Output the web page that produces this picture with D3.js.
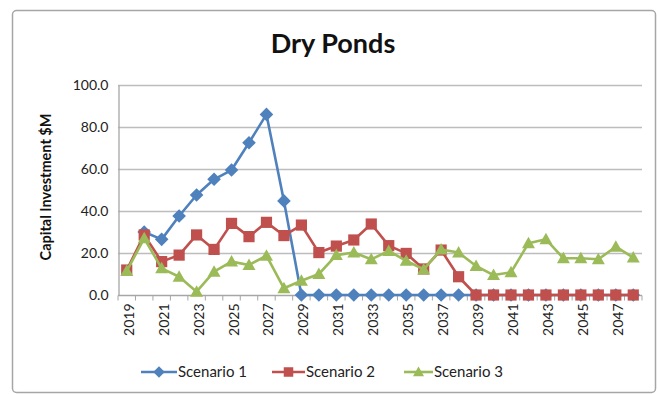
<!DOCTYPE html>
<html>
<head>
<meta charset="utf-8">
<script src="https://cdn.jsdelivr.net/npm/d3@7"></script>
<style>
  html, body { margin: 0; padding: 0; background: #fff; }
  svg { display: block; font-family: Lato, "Open Sans", sans-serif; }
</style>
</head>
<body>
<svg id="chart" width="658" height="394"></svg>
<script>
// Years on the category axis
const years = d3.range(2019, 2049);
// Capital investment ($M) by scenario; null where no value is plotted
const scenario1 = [null, 30, 26.5, 37.6, 47.6, 55.1, 59.5, 72.5, 86.0, 44.8,
  0, 0, 0, 0, 0, 0, 0, 0, 0, 0,
  0, 0, 0, 0, 0, 0, 0, 0, 0, 0];
const scenario2 = [11.9, 28.6, 15.9, 19.0, 28.6, 21.7, 34.1, 27.8, 34.6, 28.3,
  33.3, 20.2, 23.3, 26.2, 33.8, 23.5, 19.8, 12.4, 21.4, 8.7,
  0, 0, 0, 0, 0, 0, 0, 0, 0, 0];
const scenario3 = [11.4, 27.0, 12.7, 8.7, 1.6, 11.1, 15.9, 14.3, 18.7, 3.2,
  6.8, 10.0, 19.0, 20.2, 17.0, 21.0, 16.3, 12.2, 21.7, 20.2,
  13.8, 9.5, 10.8, 24.6, 26.5, 17.5, 17.5, 17.0, 23.0, 17.8];
const seriesNames = ["Scenario 1", "Scenario 2", "Scenario 3"];
const yTicks = [0, 20, 40, 60, 80, 100];

const series = [
  { name: seriesNames[0], values: scenario1, color: "#4F81BD", symbol: "diamond" },
  { name: seriesNames[1], values: scenario2, color: "#C0504D", symbol: "square" },
  { name: seriesNames[2], values: scenario3, color: "#9BBB59", symbol: "triangle" }
];

const svg = d3.select("#chart");
const plot = { left: 118, right: 642, top: 85, bottom: 295 };

// Outer frame
svg.append("rect")
  .attr("x", 12.5).attr("y", 10.5)
  .attr("width", 643).attr("height", 382)
  .attr("rx", 4)
  .attr("fill", "#fff")
  .attr("stroke", "#a6a6a6")
  .attr("stroke-width", 1.5);

// Title
svg.append("text")
  .attr("x", 333).attr("y", 53)
  .attr("text-anchor", "middle")
  .attr("font-size", 27)
  .attr("font-weight", "bold")
  .attr("fill", "#111")
  .text("Dry Ponds");

const x = d3.scaleBand().domain(years).range([plot.left, plot.right]);
const y = d3.scaleLinear().domain([0, 100]).range([plot.bottom, plot.top]);

// Horizontal gridlines
svg.append("g")
  .selectAll("line")
  .data(yTicks.filter(d => d > 0))
  .join("line")
  .attr("x1", plot.left).attr("x2", plot.right)
  .attr("y1", d => Math.round(y(d)) + 0.5).attr("y2", d => Math.round(y(d)) + 0.5)
  .attr("stroke", "#bdbdbd")
  .attr("stroke-width", 1.3);

// Y axis
const yAxis = svg.append("g")
  .attr("transform", `translate(${plot.left + 0.5},0)`)
  .call(d3.axisLeft(y).tickValues(yTicks).tickFormat(d3.format(".1f")).tickSize(0).tickPadding(10));
yAxis.select(".domain").attr("stroke", "#a6a6a6").attr("stroke-width", 1.3);
yAxis.selectAll("text")
  .attr("font-size", 14)
  .attr("font-family", "Lato, sans-serif")
  .attr("fill", "#222");

// Y axis title
svg.append("text")
  .attr("transform", `translate(51,187) rotate(-90)`)
  .attr("text-anchor", "middle")
  .attr("font-size", 14.5)
  .attr("font-weight", "bold")
  .attr("fill", "#111")
  .text("Capital Investment $M");

// X axis: ticks sit between categories
const xg = svg.append("g").attr("transform", `translate(0,${Math.round(plot.bottom) + 0.5})`);
xg.append("line")
  .attr("x1", plot.left).attr("x2", plot.right)
  .attr("stroke", "#a6a6a6").attr("stroke-width", 1.3);
xg.selectAll("line.tick")
  .data(years.concat([years[years.length - 1] + 1]))
  .join("line")
  .attr("class", "tick")
  .attr("x1", (d, i) => plot.left + i * x.bandwidth())
  .attr("x2", (d, i) => plot.left + i * x.bandwidth())
  .attr("y1", 0).attr("y2", 5)
  .attr("stroke", "#a6a6a6").attr("stroke-width", 1);
xg.selectAll("text")
  .data(years.filter((d, i) => i % 2 === 0))
  .join("text")
  .attr("transform", d => `translate(${x(d) + x.bandwidth() / 2 + 7},8) rotate(-90)`)
  .attr("text-anchor", "end")
  .attr("font-size", 14)
  .attr("fill", "#222")
  .text(d => d);

// Marker shapes
const markerPath = {
  diamond: "M0,-6.8L6.8,0L0,6.8L-6.8,0Z",
  square: "M-5.6,-5.6H5.6V5.6H-5.6Z",
  triangle: "M0,-6.5L6.5,5L-6.5,5Z"
};

// Lines and markers
const cx = d => x(d) + x.bandwidth() / 2;
series.forEach(s => {
  const pts = years.map((yr, i) => ({ yr, v: s.values[i] })).filter(p => p.v !== null);
  const line = d3.line().x(p => cx(p.yr)).y(p => y(p.v));
  svg.append("path")
    .datum(pts)
    .attr("d", line)
    .attr("fill", "none")
    .attr("stroke", s.color)
    .attr("stroke-width", 2.6)
    .attr("stroke-linejoin", "round");
  svg.append("g")
    .selectAll("path")
    .data(pts)
    .join("path")
    .attr("transform", p => `translate(${cx(p.yr)},${y(p.v)})`)
    .attr("d", markerPath[s.symbol])
    .attr("fill", s.color);
});

// Legend
const legendItems = [
  { x0: 141, x1: 177 },
  { x0: 272, x1: 305 },
  { x0: 404, x1: 433 }
];
const legendY = 372;
const lg = svg.append("g");
series.forEach((s, i) => {
  const it = legendItems[i];
  lg.append("line")
    .attr("x1", it.x0).attr("x2", it.x1)
    .attr("y1", legendY).attr("y2", legendY)
    .attr("stroke", s.color).attr("stroke-width", 2.6);
  lg.append("path")
    .attr("transform", `translate(${(it.x0 + it.x1) / 2},${legendY}) scale(0.85)`)
    .attr("d", markerPath[s.symbol])
    .attr("fill", s.color);
  lg.append("text")
    .attr("x", it.x1 + 1).attr("y", legendY + 5)
    .attr("font-size", 15)
    .attr("fill", "#222")
    .text(s.name);
});
</script>
</body>
</html>
